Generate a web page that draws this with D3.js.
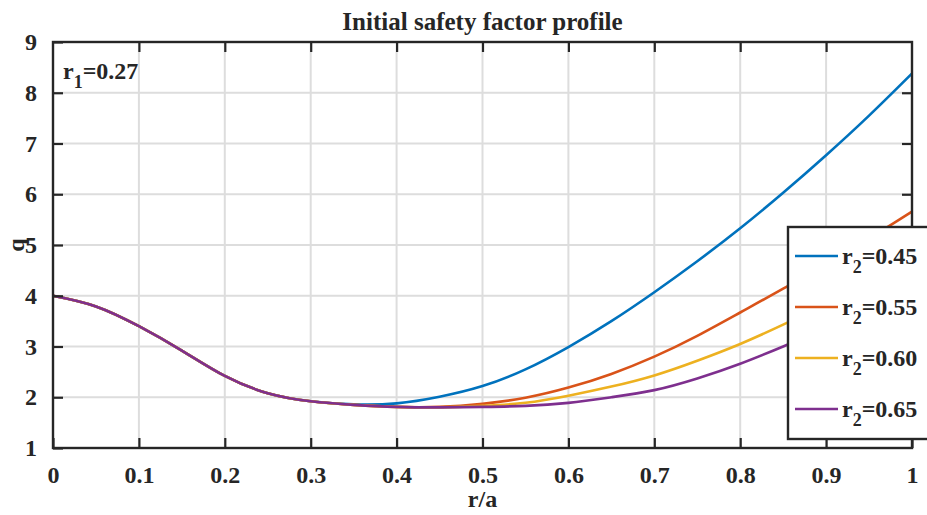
<!DOCTYPE html>
<html>
<head>
<meta charset="utf-8">
<script src="https://cdn.jsdelivr.net/npm/d3@7"></script>
<style>
  html, body { margin: 0; padding: 0; background: #fff; }
  svg { display: block; }
  text { font-family: "Liberation Serif", "Times New Roman", serif; font-weight: bold; fill: #262626; }
</style>
</head>
<body>
<svg id="chart" width="927" height="515"></svg>
<script>
// Normalised radius samples r/a
const radius = [0, 0.05, 0.1, 0.15, 0.2, 0.25, 0.3, 0.35, 0.4, 0.45, 0.5,
                0.55, 0.6, 0.65, 0.7, 0.75, 0.8, 0.85, 0.9, 0.95, 1];

// Safety factor q(r) for each r2 (r1 = 0.27)
const qR045 = [4.00, 3.79, 3.40, 2.92, 2.42, 2.08, 1.92, 1.86, 1.88, 2.01, 2.22,
               2.55, 2.99, 3.50, 4.07, 4.68, 5.33, 6.03, 6.77, 7.55, 8.38];
const qR055 = [4.00, 3.79, 3.40, 2.92, 2.42, 2.08, 1.92, 1.85, 1.81, 1.81, 1.87,
               1.99, 2.19, 2.46, 2.80, 3.21, 3.67, 4.14, 4.63, 5.13, 5.66];
const qR060 = [4.00, 3.79, 3.40, 2.92, 2.42, 2.08, 1.92, 1.85, 1.81, 1.80, 1.83,
               1.89, 2.03, 2.21, 2.43, 2.72, 3.05, 3.43, 3.84, 4.28, 4.74];
const qR065 = [4.00, 3.79, 3.40, 2.92, 2.42, 2.08, 1.92, 1.85, 1.81, 1.80, 1.81,
               1.83, 1.89, 2.00, 2.14, 2.37, 2.66, 3.00, 3.36, 3.74, 4.14];

const seriesLabels = ["0.45", "0.55", "0.60", "0.65"];
const seriesColors = ["#0072BD", "#D95319", "#EDB120", "#7E2F8E"];
const seriesValues = [qR045, qR055, qR060, qR065];

const xTicks = [0, 0.1, 0.2, 0.3, 0.4, 0.5, 0.6, 0.7, 0.8, 0.9, 1];
const yTicks = [1, 2, 3, 4, 5, 6, 7, 8, 9];

const titleText = "Initial safety factor profile";
const xLabel = "r/a";
const yLabel = "q";
const r1Text = "0.27";

// Layout
const svg = d3.select("#chart");
const plotL = 53, plotR = 912, plotT = 42, plotB = 448;
const x = d3.scaleLinear().domain([0, 1]).range([plotL, plotR]);
const y = d3.scaleLinear().domain([1, 9]).range([plotB, plotT]);
const axisColor = "#262626";
const gridColor = "#dddddd";
const tickLen = 10;

// Grid
const grid = svg.append("g");
grid.selectAll("line.gx").data(xTicks.slice(1, -1)).join("line")
  .attr("x1", d => x(d)).attr("x2", d => x(d))
  .attr("y1", plotT).attr("y2", plotB)
  .attr("stroke", gridColor).attr("stroke-width", 2);
grid.selectAll("line.gy").data(yTicks.slice(1, -1)).join("line")
  .attr("y1", d => y(d)).attr("y2", d => y(d))
  .attr("x1", plotL).attr("x2", plotR)
  .attr("stroke", gridColor).attr("stroke-width", 2);

// Curves
const line = d3.line()
  .x((d, i) => x(radius[i]))
  .y(d => y(d))
  .curve(d3.curveNatural);

svg.append("g").selectAll("path").data(seriesValues).join("path")
  .attr("d", d => line(d))
  .attr("fill", "none")
  .attr("stroke", (d, i) => seriesColors[i])
  .attr("stroke-width", 2.6)
  .attr("stroke-linejoin", "round");

// Axes (box with inward ticks on all four sides)
function styleAxis(g) {
  g.select(".domain").remove();
  g.selectAll(".tick line").attr("stroke", axisColor).attr("stroke-width", 2.2);
  g.selectAll(".tick text")
    .attr("fill", axisColor)
    .style("font-family", "'Liberation Serif', 'Times New Roman', serif")
    .style("font-weight", "bold")
    .style("font-size", "24px");
}
const fmt = d => d === 0 || d === 1 ? String(d) : d3.format(".1f")(d);

svg.append("g").attr("transform", `translate(0,${plotB})`)
  .call(d3.axisBottom(x).tickValues(xTicks).tickFormat(fmt).tickSizeInner(-tickLen).tickSizeOuter(0).tickPadding(18))
  .call(styleAxis);
svg.append("g").attr("transform", `translate(0,${plotT})`)
  .call(d3.axisTop(x).tickValues(xTicks.slice(1, -1)).tickFormat("").tickSizeInner(-tickLen).tickSizeOuter(0))
  .call(styleAxis);
svg.append("g").attr("transform", `translate(${plotL},0)`)
  .call(d3.axisLeft(y).tickValues(yTicks).tickFormat(d3.format("d")).tickSizeInner(-tickLen).tickSizeOuter(0).tickPadding(16))
  .call(styleAxis);
svg.append("g").attr("transform", `translate(${plotR},0)`)
  .call(d3.axisRight(y).tickValues(yTicks.slice(1, -1)).tickFormat("").tickSizeInner(-tickLen).tickSizeOuter(0))
  .call(styleAxis);

svg.append("rect")
  .attr("x", plotL).attr("y", plotT)
  .attr("width", plotR - plotL).attr("height", plotB - plotT)
  .attr("fill", "none").attr("stroke", axisColor).attr("stroke-width", 2.4);

// Title and axis labels
svg.append("text").attr("x", (plotL + plotR) / 2).attr("y", 30)
  .attr("text-anchor", "middle").style("font-size", "25px").text(titleText);
svg.append("text").attr("x", (plotL + plotR) / 2).attr("y", 507)
  .attr("text-anchor", "middle").style("font-size", "24px").text(xLabel);
svg.append("text")
  .attr("transform", `translate(24,${(plotT + plotB) / 2}) rotate(-90)`)
  .attr("text-anchor", "middle").style("font-size", "24px").text(yLabel);

// r1 annotation
const ann = svg.append("text").attr("x", 63).attr("y", 79).style("font-size", "24px");
ann.append("tspan").text("r");
ann.append("tspan").attr("dy", 9).style("font-size", "18px").text("1");
ann.append("tspan").attr("dy", -9).text("=" + r1Text);

// Legend
const lgX = 788, lgY = 227, lgW = 150, lgH = 212, rowH = 51;
const legend = svg.append("g");
legend.append("rect")
  .attr("x", lgX).attr("y", lgY).attr("width", lgW).attr("height", lgH)
  .attr("fill", "#fff").attr("stroke", axisColor).attr("stroke-width", 2.4);
const rows = legend.selectAll("g.row").data(seriesLabels).join("g")
  .attr("transform", (d, i) => `translate(0,${lgY + 29 + i * rowH})`);
rows.append("line")
  .attr("x1", lgX + 7).attr("x2", lgX + 50)
  .attr("y1", 0).attr("y2", 0)
  .attr("stroke", (d, i) => seriesColors[i]).attr("stroke-width", 2.6);
const lt = rows.append("text").attr("x", lgX + 54).attr("y", 0).attr("dy", 8)
  .style("font-size", "24px");
lt.append("tspan").text("r");
lt.append("tspan").attr("dy", 9).style("font-size", "18px").text("2");
lt.append("tspan").attr("dy", -9).text(d => "=" + d);
</script>
</body>
</html>
